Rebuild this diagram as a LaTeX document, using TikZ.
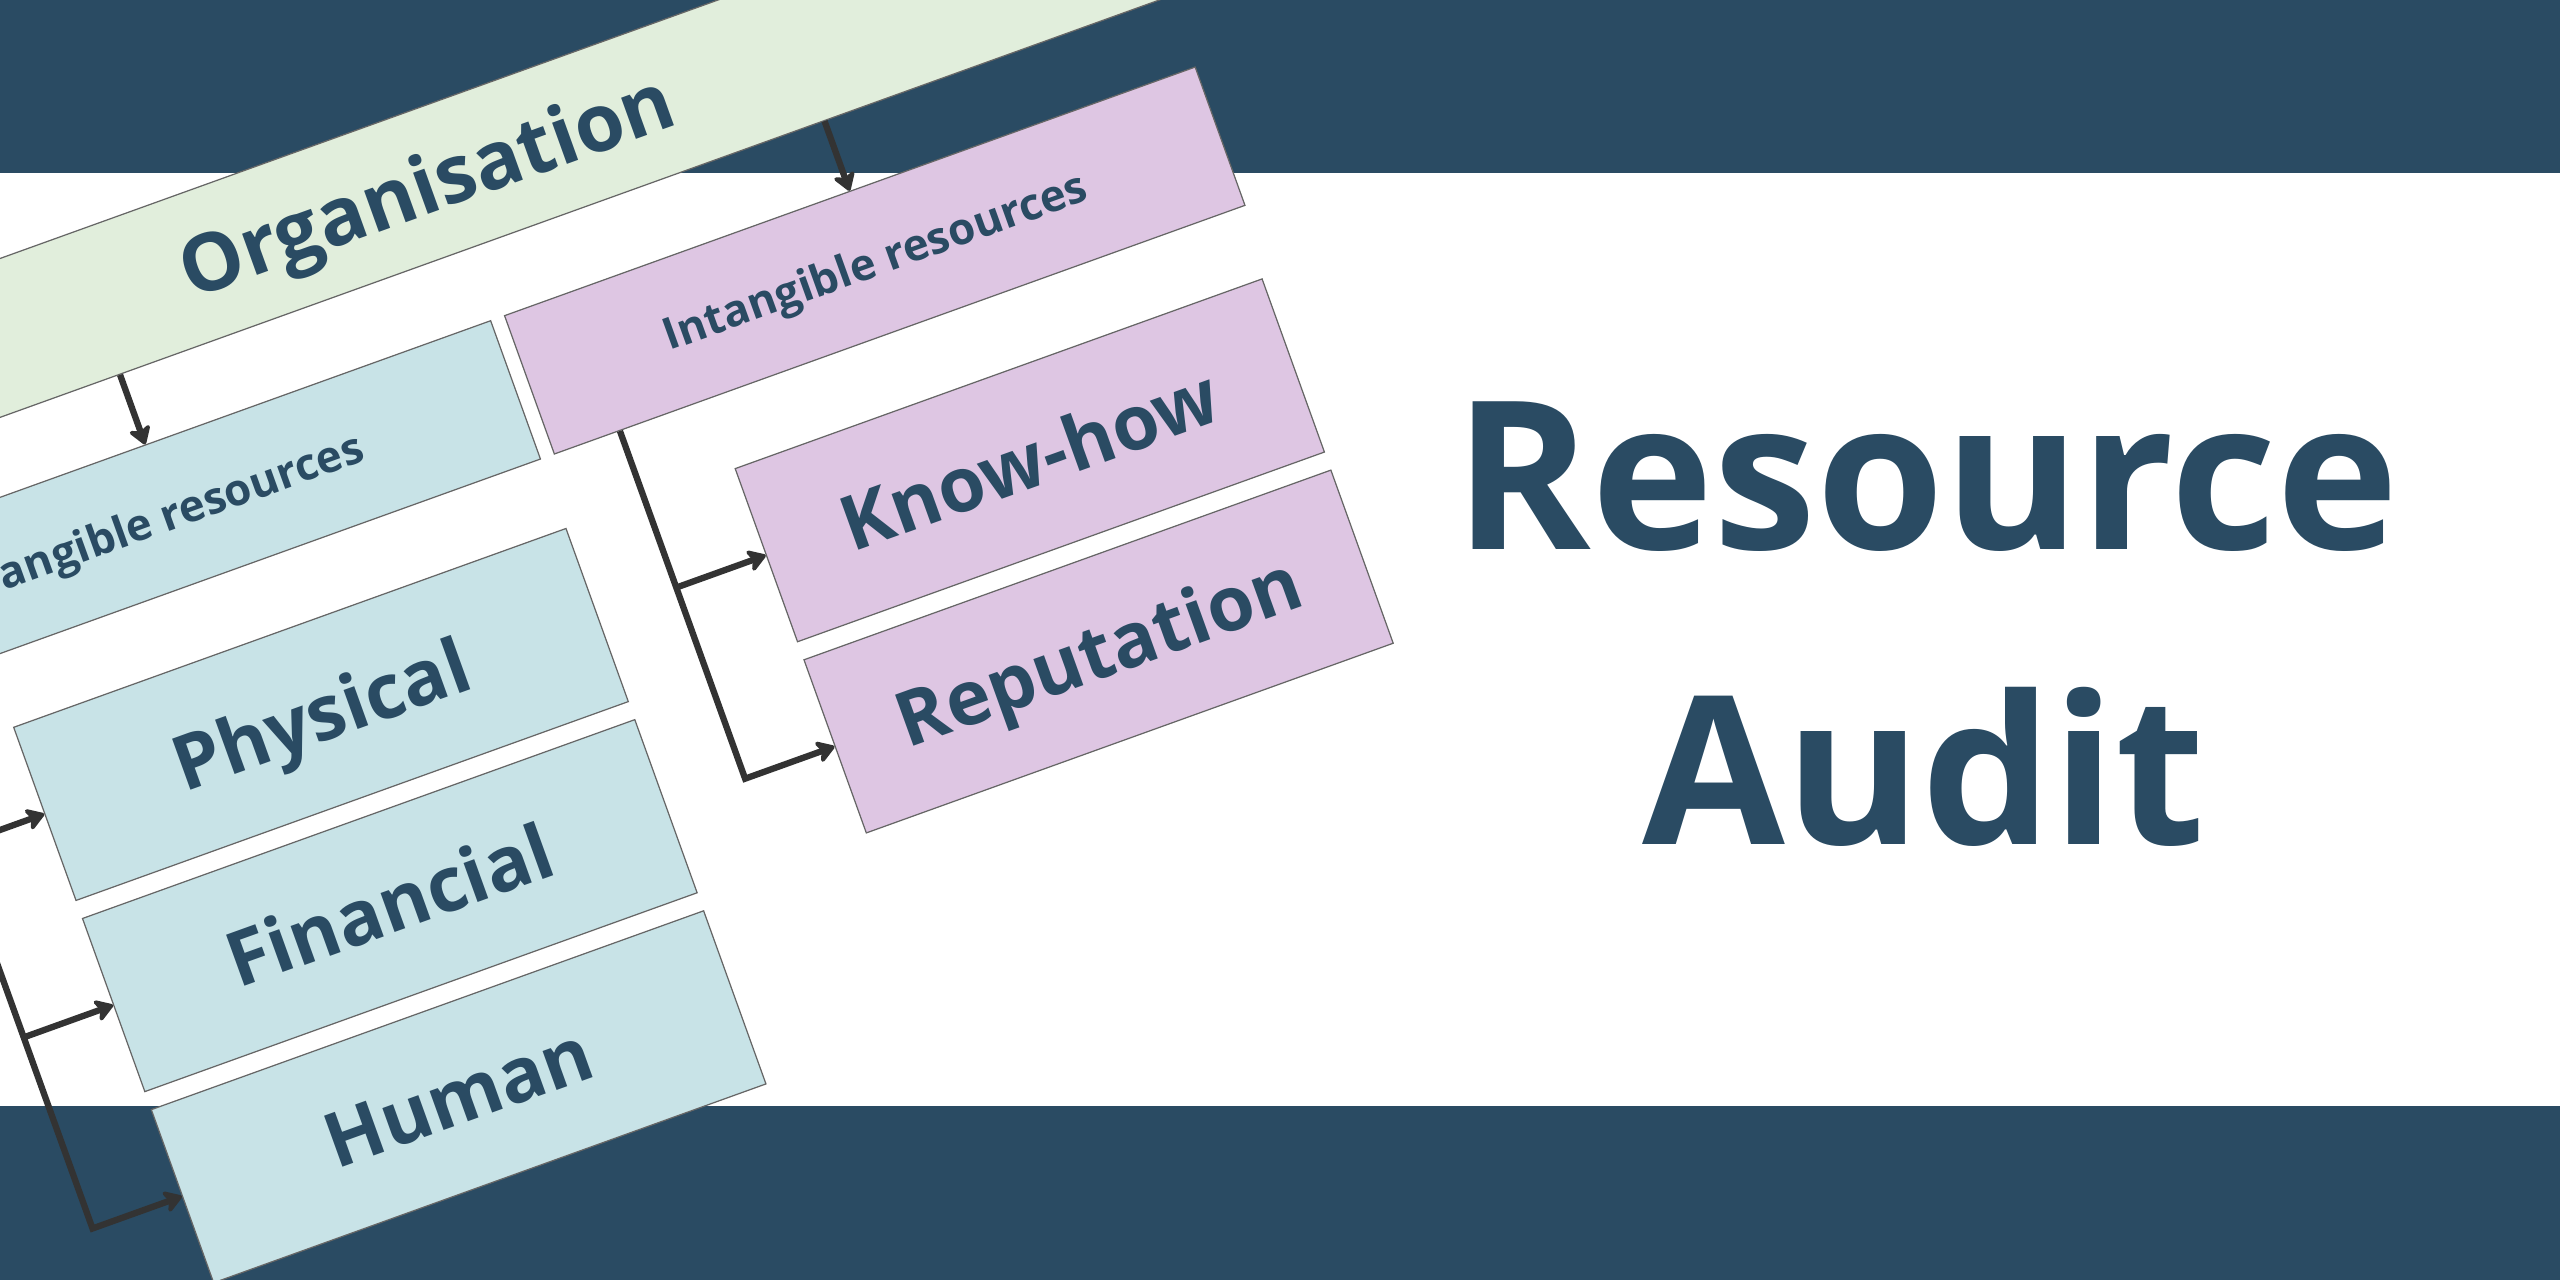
\documentclass[tikz,border=0pt]{standalone}
\usepackage{fontspec}
\setmainfont{Open Sans}
\usetikzlibrary{positioning,calc,arrows.meta}
\definecolor{navy}{HTML}{2A4B63}
\definecolor{orgfill}{HTML}{E1EEDC}
\definecolor{tanfill}{HTML}{C8E3E7}
\definecolor{intfill}{HTML}{DEC6E3}
\definecolor{rim}{HTML}{666666}
\definecolor{wire}{HTML}{333333}
\begin{document}
\begin{tikzpicture}[
        box/.style={draw=rim, line width=0.35pt, text=navy, inner sep=0pt, text depth=0pt},
        orgbox/.style={box, fill=orgfill, minimum width=15.6cm, minimum height=1.495cm,
            font=\bfseries\fontsize{22.8}{27}\selectfont, text height=16.3pt},
        midbox/.style={box, minimum width=7.34cm, minimum height=1.47cm,
            font=\bfseries\fontsize{12.5}{15}\selectfont, text height=8.9pt},
        leafbox/.style={box, minimum height=1.84cm,
            font=\bfseries\fontsize{21.6}{26}\selectfont, text height=15.4pt},
        link/.style={draw=wire, line width=1.8pt, -{Stealth[length=6pt,width=7.6pt,inset=1.6pt,round]}},
        title/.style={anchor=base, text=navy, inner sep=0pt, font=\bfseries\fontsize{58.9}{70}\selectfont}
    ]
    \useasboundingbox (0,0) rectangle (25.6,12.8);
    \clip (0,0) rectangle (25.6,12.8);
    \fill[white] (0,0) rectangle (25.6,12.8);
    \fill[navy] (0,11.07) rectangle (25.6,12.8);
    \fill[navy] (0,0) rectangle (25.6,1.74);
    \begin{scope}[shift={(0,12.8)}, rotate=19.8, transform shape]
        \node[orgbox] (org) at (3.385,-3.18) {Organisation};
        \node[midbox, fill=tanfill] (tang) at (-0.14,-5.415) {Tangible resources};
        \node[midbox, fill=intfill, right=0.136cm of tang] (intang) {Intangible resources};
        \node[leafbox, fill=tanfill, minimum width=5.87cm] (phys) at (0.60,-7.81) {Physical};
        \node[leafbox, fill=tanfill, minimum width=5.87cm, below=0.18cm of phys] (fin) {Financial};
        \node[leafbox, fill=tanfill, minimum width=5.87cm, below=0.18cm of fin] (hum) {Human};
        \node[leafbox, fill=intfill, minimum width=5.6cm] (know) at (8.13,-7.82) {Know-how};
        \node[leafbox, fill=intfill, minimum width=5.6cm, below=0.18cm of know] (rep) {Reputation};
        \draw[link] ($(org.south west)!(tang.north)!(org.south east)$) -- (tang.north);
        \draw[link] ($(org.south west)!(intang.north)!(org.south east)$) -- (intang.north);
        \coordinate (tk) at ($(hum.west)!-0.95cm!(hum.east)$);
        \coordinate (ik) at ($(rep.west)!-0.95cm!(rep.east)$);
        \draw[link] ($(tang.south west)!(tk)!(tang.south east)$) -- (tk) -- (hum.west);
        \draw[link] ($(intang.south west)!(ik)!(intang.south east)$) -- (ik) -- (rep.west);
        \foreach \leaf in {phys,fin,know}
            \draw[link] ($(\leaf.west)!-0.95cm!(\leaf.east)$) -- (\leaf.west);
    \end{scope}
    \node[title] (res) at (19.27,7.30) {Resource};
    \node[title] (aud) at (19.24,4.35) {Audit};
\end{tikzpicture}
\end{document}
